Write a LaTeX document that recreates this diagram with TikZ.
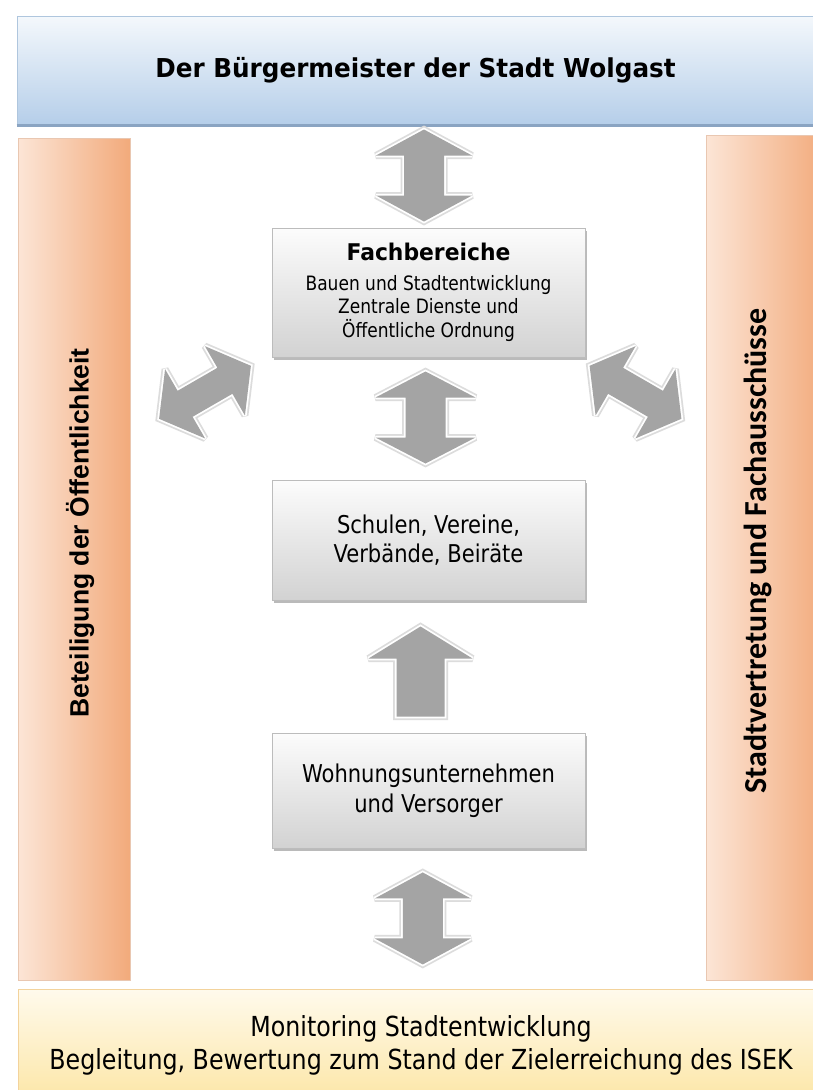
\documentclass[tikz,border=0pt]{standalone}
\usepackage{fontspec}
\setmainfont{DejaVu Sans}
\newfontfamily\tahoma{DejaVu Sans}[FakeStretch=0.86]
\newfontfamily\tahomab{DejaVu Sans}[FakeStretch=0.95]
\newfontfamily\arialfont{Liberation Sans}
\newfontfamily\calfont{Carlito}
\usetikzlibrary{shadows,calc}

\definecolor{blueTop}{HTML}{F4F8FC}
\definecolor{blueBot}{HTML}{B5CEE9}
\definecolor{blueEdge}{HTML}{AFC6DE}
\definecolor{blueLine}{HTML}{8AA4C2}
\definecolor{peachL}{HTML}{FCE5D6}
\definecolor{peachR}{HTML}{F2AA7B}
\definecolor{peachEdge}{HTML}{E9C7B1}
\definecolor{yelTop}{HTML}{FFFAEC}
\definecolor{yelBot}{HTML}{FCE6A6}
\definecolor{yelEdge}{HTML}{F3D39C}
\definecolor{grayTop}{HTML}{FCFCFC}
\definecolor{grayBot}{HTML}{D2D2D2}
\definecolor{grayEdge}{HTML}{BCBCBC}
\definecolor{arrDark}{HTML}{A4A4A4}
\definecolor{arrLight}{HTML}{DCDCDC}

\tikzset{
  topbox/.style={draw=blueEdge, line width=0.6pt, top color=blueTop, bottom color=blueBot, inner sep=0pt},
  sidecol/.style={draw=peachEdge, line width=0.6pt, left color=peachL, right color=peachR, inner sep=0pt},
  botbox/.style={draw=yelEdge, line width=0.8pt, top color=yelTop, bottom color=yelBot, inner sep=0pt, align=center},
  graybox/.style={draw=grayEdge, line width=0.6pt, top color=grayTop, bottom color=grayBot,
     minimum width=313pt, align=center, inner sep=0pt,
     drop shadow={shadow xshift=1.5pt, shadow yshift=-2.5pt, fill=black!45, opacity=0.6}},
  arrhalo/.style={draw=arrLight, line width=7pt, line join=miter, miter limit=3},
  arrgap/.style={draw=white, line width=3.5pt, line join=miter, miter limit=3},
  arrcore/.style={fill=arrDark},
}

% horizontal double block arrow: centre, angle, length, head half width, shaft half width, head length
\newcommand{\dblblock}[6]{%
  \begin{scope}[shift={(#1)}, rotate=#2]
    \foreach \st in {arrhalo,arrgap,arrcore}{
      \path[\st] (-#3/2,0) -- (-#3/2+#6,-#4) -- (-#3/2+#6,-#5) -- (#3/2-#6,-#5) -- (#3/2-#6,-#4)
        -- (#3/2,0) -- (#3/2-#6,#4) -- (#3/2-#6,#5) -- (-#3/2+#6,#5) -- (-#3/2+#6,#4) -- cycle;
    }
  \end{scope}}
% single block arrow pointing along +x: centre, angle, length, head half width, shaft half width, head length
\newcommand{\sglblock}[6]{%
  \begin{scope}[shift={(#1)}, rotate=#2]
    \foreach \st in {arrhalo,arrgap,arrcore}{
      \path[\st] (-#3/2,-#5) -- (#3/2-#6,-#5) -- (#3/2-#6,-#4) -- (#3/2,0) -- (#3/2-#6,#4)
        -- (#3/2-#6,#5) -- (-#3/2,#5) -- cycle;
    }
  \end{scope}}

\begin{document}
\begin{tikzpicture}[x=1pt,y=-1pt]
\useasboundingbox[fill=white] (0,0) rectangle (812,1090);

% side columns
\node[sidecol, minimum width=112pt, minimum height=842pt] (leftcol) at (74,559) {};
\node[sidecol, minimum width=120pt, minimum height=845pt] (rightcol) at (766,557.5) {};

% top box
\node[topbox, minimum width=797pt, minimum height=109pt,
      font=\tahomab\bfseries\fontsize{26}{30}\selectfont] (top) at (415.5,70.5)
  {Der Bürgermeister der Stadt Wolgast};
\draw[blueLine, line width=2.5pt] (top.south west) -- (top.south east);

% bottom box
\node[botbox, minimum width=806pt, minimum height=113pt,
      font=\tahoma\fontsize{27.6}{33}\selectfont] (bottom) at (421,1045.5)
  {Monitoring Stadtentwicklung\\
   Begleitung, Bewertung zum Stand der Zielerreichung des ISEK};

% central boxes
\node[graybox, minimum height=129pt, font=\tahoma\fontsize{19.8}{23.5}\selectfont] (fach) at (428.5,292.5)
  {{\tahomab\bfseries\fontsize{23}{26}\selectfont Fachbereiche}\\[6pt]
   Bauen und Stadtentwicklung\\
   Zentrale Dienste und\\
   Öffentliche Ordnung};
\node[graybox, minimum height=120pt, font=\tahoma\fontsize{24.5}{29}\selectfont] (schul) at (428.5,540)
  {Schulen, Vereine,\\ Verbände, Beiräte};
\node[graybox, minimum height=115pt, font=\tahoma\fontsize{24.5}{30}\selectfont] (wohn) at (428.5,790.5)
  {Wohnungsunternehmen\\ und Versorger};

% side texts
\node[rotate=90, inner sep=0pt, font=\arialfont\bfseries\fontsize{26.5}{30}\selectfont] (lefttext) at (80,533)
  {Beteiligung der Öffentlichkeit};
\node[rotate=90, inner sep=0pt, font=\calfont\bfseries\fontsize{32}{34}\selectfont] (righttext) at (758,551)
  {Stadtvertretung und Fachausschüsse};

% block arrows
\coordinate (a1) at ($(top.south)!0.5!(fach.north)+(2,-1)$);
\coordinate (a2) at ($(fach.south)!0.5!(schul.north)+(-3,-1)$);
\coordinate (a3) at ($(schul.south)!0.5!(wohn.north)+(-8,5)$);
\coordinate (a4) at ($(wohn.south)!0.5!(bottom.north)+(-2,0)$);
\coordinate (al) at ($(leftcol.east |- fach.south)!0.5!(fach.south west)+(4,35)$);
\coordinate (ar) at ($(fach.south east)!0.5!(rightcol.west |- fach.south)+(-10,35)$);

\dblblock{a1}{90}{92}{48}{20}{26}
\dblblock{a2}{90}{92}{50}{20}{26}
\sglblock{a3}{90}{90}{52}{24}{32}
\dblblock{a4}{90}{92}{48}{20}{26}
\dblblock{al}{30}{106}{40}{15}{30}
\dblblock{ar}{-30}{106}{40}{15}{30}
\end{tikzpicture}
\end{document}
